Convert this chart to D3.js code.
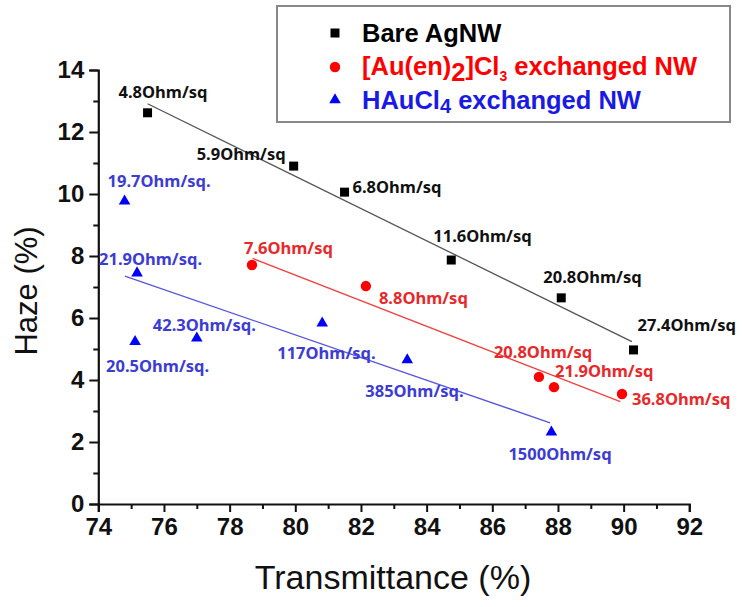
<!DOCTYPE html>
<html>
<head>
<meta charset="utf-8">
<script src="https://cdn.jsdelivr.net/npm/d3@7"></script>
<style>
  html, body { margin: 0; padding: 0; background: #fff; }
  svg { display: block; }
</style>
</head>
<body>
<svg id="chart" width="742" height="607"></svg>
<script>
// ---- data ----
const xTickValues = [74, 76, 78, 80, 82, 84, 86, 88, 90, 92];
const xMinorValues = [75, 77, 79, 81, 83, 85, 87, 89, 91];
const yTickValues = [0, 2, 4, 6, 8, 10, 12, 14];
const yMinorValues = [1, 3, 5, 7, 9, 11, 13];

const bareX = [75.5, 79.95, 81.5, 84.75, 88.1, 90.3];
const bareY = [12.62, 10.9, 10.06, 7.87, 6.65, 4.97];
const bareLabels = ["4.8Ohm/sq", "5.9Ohm/sq", "6.8Ohm/sq", "11.6Ohm/sq", "20.8Ohm/sq", "27.4Ohm/sq"];

const auenX = [78.68, 82.15, 87.42, 87.88, 89.95];
const auenY = [7.71, 7.03, 4.1, 3.77, 3.55];
const auenLabels = ["7.6Ohm/sq", "8.8Ohm/sq", "20.8Ohm/sq", "21.9Ohm/sq", "36.8Ohm/sq"];

const haucX = [74.8, 75.18, 75.12, 77.0, 80.82, 83.41, 87.8];
const haucY = [9.77, 7.45, 5.24, 5.35, 5.83, 4.65, 2.32];
const haucLabels = ["19.7Ohm/sq.", "21.9Ohm/sq.", "20.5Ohm/sq.", "42.3Ohm/sq.", "117Ohm/sq.", "385Ohm/sq.", "1500Ohm/sq"];

// linear fit lines (endpoints)
const bareFitX = [75.5, 90.25];
const bareFitY = [12.91, 5.24];
const auenFitX = [78.7, 89.9];
const auenFitY = [7.92, 3.30];
const haucFitX = [74.81, 87.76];
const haucFitY = [7.35, 2.62];

// ---- layout (label offsets in px relative to the point) ----
const bareLabelOffsets = [[-29, -21], [-97, -13], [8, -6], [-18, -25], [-18, -21], [4, -25]];
const auenLabelOffsets = [[-8, -17], [13, 11], [-45, -25], [1, -17], [10, 5]];
const haucLabelOffsets = [[-17, -21], [-38, -15], [-29, 24], [-44, -14], [-45, 29], [-42, 31], [-43, 21]];

const svg = d3.select("#chart");
const x = d3.scaleLinear().domain([74, 92]).range([98.3, 689.3]);
const y = d3.scaleLinear().domain([0, 14]).range([504, 70]);

const tickFont = "'Liberation Sans', Arial, sans-serif";
const labelFont = "'Noto Sans', 'DejaVu Sans', sans-serif";

// axes
const xAxis = svg.append("g").attr("transform", "translate(0,504)")
  .call(d3.axisBottom(x).tickValues(xTickValues).tickSize(8).tickPadding(6).tickFormat(d3.format("d")));
const xMinor = svg.append("g").attr("transform", "translate(0,504)")
  .call(d3.axisBottom(x).tickValues(xMinorValues).tickSize(5).tickFormat(""));
const yAxis = svg.append("g").attr("transform", "translate(98.3,0)")
  .call(d3.axisLeft(y).tickValues(yTickValues).tickSize(9).tickPadding(5).tickFormat(d3.format("d")));
const yMinor = svg.append("g").attr("transform", "translate(98.3,0)")
  .call(d3.axisLeft(y).tickValues(yMinorValues).tickSize(5).tickFormat(""));

[xAxis, xMinor, yAxis, yMinor].forEach(g => {
  g.select(".domain").attr("stroke", "#111").attr("stroke-width", 2.2);
  g.selectAll(".tick line").attr("stroke", "#111").attr("stroke-width", 2);
  g.selectAll(".tick text").attr("fill", "#111")
    .style("font-family", tickFont).style("font-weight", "bold").style("font-size", "24px");
});
xMinor.select(".domain").remove();
yMinor.select(".domain").remove();

// axis titles
svg.append("text").attr("x", 393).attr("y", 577).attr("text-anchor", "middle")
  .attr("dominant-baseline", "central")
  .style("font-family", tickFont).style("font-size", "34px").attr("fill", "#111")
  .text("Transmittance (%)");
svg.append("text").attr("transform", "translate(26,291) rotate(-90)").attr("text-anchor", "middle")
  .attr("dominant-baseline", "central")
  .style("font-family", tickFont).style("font-size", "31px").attr("fill", "#111")
  .text("Haze (%)");

// fit lines
function fitLine(xs, ys, color) {
  const pts = xs.map((v, i) => [v, ys[i]]);
  svg.append("path").datum(pts)
    .attr("d", d3.line().x(d => x(d[0])).y(d => y(d[1])))
    .attr("fill", "none").attr("stroke", color).attr("stroke-width", 1.3);
}
fitLine(bareFitX, bareFitY, "#555555");
fitLine(auenFitX, auenFitY, "#ee4444");
fitLine(haucFitX, haucFitY, "#5555dd");

// markers
const squareSym = d3.symbol(d3.symbolSquare).size(81);
const circleSym = d3.symbol(d3.symbolCircle).size(85);
const triSym = d3.symbol(d3.symbolTriangle).size(58);

function markers(xs, ys, sym, color) {
  svg.append("g").selectAll("path").data(xs.map((v, i) => [v, ys[i]])).join("path")
    .attr("transform", d => `translate(${x(d[0])},${y(d[1])})`)
    .attr("d", sym).attr("fill", color);
}
markers(bareX, bareY, squareSym, "#000000");
markers(auenX, auenY, circleSym, "#ff0000");
markers(haucX, haucY, triSym, "#0000ff");

// point labels
function labels(xs, ys, texts, offsets, color) {
  svg.append("g").selectAll("text").data(texts).join("text")
    .attr("x", (d, i) => x(xs[i]) + offsets[i][0])
    .attr("y", (d, i) => y(ys[i]) + offsets[i][1])
    .attr("dominant-baseline", "central")
    .style("font-family", labelFont).style("font-weight", "bold").style("font-size", "16.5px")
    .attr("fill", color).text(d => d);
}
labels(bareX, bareY, bareLabels, bareLabelOffsets, "#111111");
labels(auenX, auenY, auenLabels, auenLabelOffsets, "#e8282a");
labels(haucX, haucY, haucLabels, haucLabelOffsets, "#3c3cd4");

// legend
const lg = svg.append("g");
lg.append("rect").attr("x", 277).attr("y", 6).attr("width", 453).attr("height", 116)
  .attr("fill", "#fff").attr("stroke", "#888").attr("stroke-width", 2);
lg.append("path").attr("transform", "translate(335,33)").attr("d", squareSym).attr("fill", "#000");
lg.append("path").attr("transform", "translate(335,67)").attr("d", circleSym).attr("fill", "#ff0000");
lg.append("path").attr("transform", "translate(335,100)").attr("d", triSym).attr("fill", "#0000ff");

const legendStyle = t => t.style("font-family", tickFont).style("font-weight", "bold").style("font-size", "25.5px");
legendStyle(lg.append("text").attr("x", 362).attr("y", 42).attr("fill", "#000").text("Bare AgNW"));

const t2 = legendStyle(lg.append("text").attr("x", 362).attr("y", 75).attr("fill", "#ff0000"));
t2.append("tspan").text("[Au(en)");
t2.append("tspan").attr("dy", 6).text("2");
t2.append("tspan").attr("dy", -6).text("]Cl");
t2.append("tspan").attr("dy", 6).style("font-size", "14px").text("3");
t2.append("tspan").attr("dy", -6).text(" exchanged NW");

const t3 = legendStyle(lg.append("text").attr("x", 362).attr("y", 109).attr("fill", "#1a1ae6"));
t3.append("tspan").text("HAuCl");
t3.append("tspan").attr("dy", 4).style("font-size", "20px").text("4");
t3.append("tspan").attr("dy", -4).text(" exchanged NW");
</script>
</body>
</html>
